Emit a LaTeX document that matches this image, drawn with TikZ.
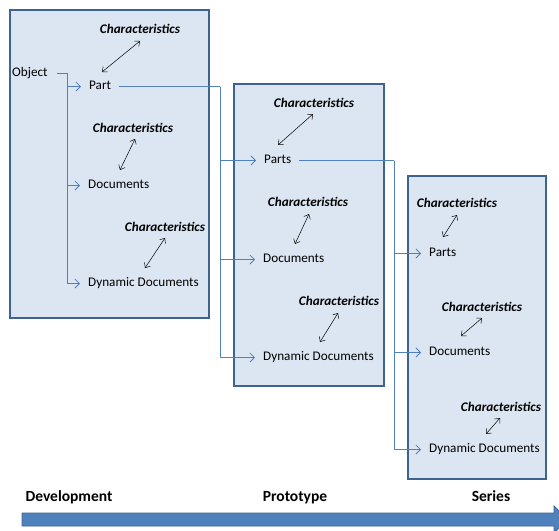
\documentclass[tikz,border=0pt]{standalone}
\usepackage{fontspec}
\setmainfont{Carlito}
\usetikzlibrary{arrows.meta}
\definecolor{boxfill}{HTML}{DCE6F2}
\definecolor{boxline}{HTML}{3F6390}
\definecolor{connblue}{HTML}{4F81BD}
\definecolor{barfill}{HTML}{4F81BD}
\begin{document}
\begin{tikzpicture}[x=1pt,y=-1pt,
  stagebox/.style={draw=boxline,fill=boxfill,line width=2.2pt},
  lbl/.style={anchor=west,inner sep=0pt,yshift=-2.5pt,text height=0.7em,text depth=0.2em,font=\fontsize{13.2}{15}\selectfont},
  charlbl/.style={anchor=center,inner sep=0pt,yshift=-2.5pt,text height=0.7em,text depth=0.2em,font=\fontsize{13.2}{15}\selectfont\bfseries\itshape},
  phase/.style={anchor=center,inner sep=0pt,text height=0.7em,text depth=0.2em,font=\fontsize{15.5}{18}\selectfont\bfseries},
  conn/.style={draw=connblue,line width=0.9pt,-{Straight Barb[length=4.5pt,width=9pt,line width=0.8pt]},shorten >=8pt},
  trunkline/.style={draw=connblue,line width=0.9pt},
  biarrow/.style={draw=black,line width=0.5pt,{Straight Barb[length=4pt,width=7pt]}-{Straight Barb[length=4pt,width=7pt]}}
]
\useasboundingbox (0,0) rectangle (559,530);

% stage boxes
\draw[stagebox] (10,10) rectangle (209,318);
\draw[stagebox] (234,84) rectangle (384,386);
\draw[stagebox] (408,176) rectangle (546,479);

% box 1
\node[lbl] (obj) at (12,71) {Object};
\node[charlbl] (c11) at (140,28) {Characteristics};
\node[lbl] (part1) at (89,84) {Part};
\node[charlbl] (c12) at (133,127) {Characteristics};
\node[lbl] (doc1) at (88,183) {Documents};
\node[charlbl] (c13) at (165,226) {Characteristics};
\node[lbl] (dyn1) at (88,281) {Dynamic Documents};

% box 2
\node[charlbl] (c21) at (314,102) {Characteristics};
\node[lbl] (part2) at (264,158) {Parts};
\node[charlbl] (c22) at (308,201) {Characteristics};
\node[lbl] (doc2) at (263,257) {Documents};
\node[charlbl] (c23) at (339,300) {Characteristics};
\node[lbl] (dyn2) at (263,355) {Dynamic Documents};

% box 3
\node[charlbl] (c31) at (457,202) {Characteristics};
\node[lbl] (part3) at (429,251) {Parts};
\node[charlbl] (c32) at (482,306) {Characteristics};
\node[lbl] (doc3) at (429,350) {Documents};
\node[charlbl] (c33) at (501,406) {Characteristics};
\node[lbl] (dyn3) at (429,447) {Dynamic Documents};

% characteristic arrows
\draw[biarrow] (102,72) -- (140,41);
\draw[biarrow] (120,170) -- (135,139);
\draw[biarrow] (145,268) -- (165,238);
\draw[biarrow] (278,145) -- (313,114);
\draw[biarrow] (295,244) -- (309,214);
\draw[biarrow] (320,342) -- (338,313);
\draw[biarrow] (443,237) -- (457,215);
\draw[biarrow] (461,336) -- (482,318);
\draw[biarrow] (486,434) -- (500,418);

% connectors
\coordinate (t1) at ([xshift=20pt]obj.east);
\coordinate (t2) at ([xshift=109pt]part1.east);
\coordinate (t3) at ([xshift=103pt]part2.east);
\draw[trunkline,shorten <=9pt] (obj.east) -- (t1);
\draw[conn] (t1) |- (part1.west);
\draw[conn] (t1) |- (doc1.west);
\draw[conn] (t1) |- (dyn1.west);
\draw[trunkline,shorten <=8pt] (part1.east) -- (t2);
\draw[conn] (t2) |- (part2.west);
\draw[conn] (t2) |- (doc2.west);
\draw[conn] (t2) |- (dyn2.west);
\draw[trunkline,shorten <=8pt] (part2.east) -- (t3);
\draw[conn] (t3) |- (part3.west);
\draw[conn] (t3) |- (doc3.west);
\draw[conn] (t3) |- (dyn3.west);

% timeline
\node[phase] (dev) at (69,499) {Development};
\node[phase] (proto) at (295,499) {Prototype};
\node[phase] (ser) at (491,499) {Series};
\draw[draw=boxline,fill=barfill,line width=0.8pt] (22,513) -- (554,513) -- (554,506) -- (568,519.5) -- (554,533) -- (554,526) -- (22,526) -- cycle;
\end{tikzpicture}
\end{document}
